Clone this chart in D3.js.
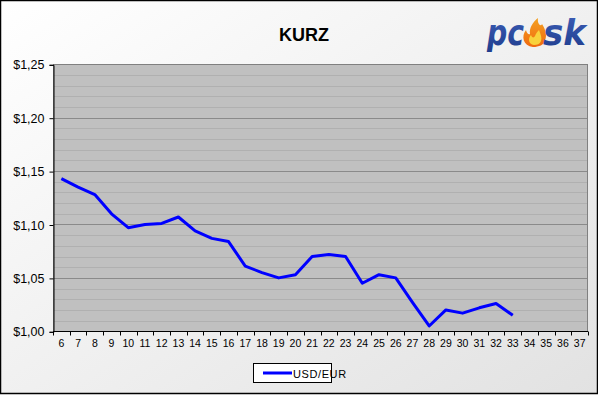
<!DOCTYPE html>
<html><head><meta charset="utf-8">
<script src="https://cdn.jsdelivr.net/npm/d3@7/dist/d3.min.js"></script>
<style>html,body{margin:0;padding:0;background:#fff;}svg{display:block;}</style>
</head><body>
<script>
const weeks = [6,7,8,9,10,11,12,13,14,15,16,17,18,19,20,21,22,23,24,25,26,27,28,29,30,31,32,33,34,35,36,37];
const usdEur = [1.143,1.135,1.128,1.110,1.097,1.100,1.101,1.107,1.094,1.087,1.084,1.061,1.055,1.050,1.053,1.070,1.072,1.070,1.045,1.053,1.050,1.027,1.005,1.020,1.017,1.022,1.026,1.015,null,null,null,null];
const yTicks = [1.00,1.05,1.10,1.15,1.20,1.25];
const minorTicks = d3.range(1.00,1.2501,0.01);
const seriesName = "USD/EUR";
const title = "KURZ";

const W=598,H=395;
const m={l:53,r:10,t:64,b:63};
const svg=d3.select("body").append("svg").attr("width",W).attr("height",H);
const defs=svg.append("defs");
const bg=defs.append("linearGradient").attr("id","bg").attr("x1","0").attr("y1","0").attr("x2","1").attr("y2","1");
bg.append("stop").attr("offset","0").attr("stop-color","#ffffff");
bg.append("stop").attr("offset","1").attr("stop-color","#e2e2e2");
const lg=defs.append("linearGradient").attr("id","logo").attr("x1","0").attr("y1","0").attr("x2","0").attr("y2","1");
lg.append("stop").attr("offset","0").attr("stop-color","#3d5fb8");
lg.append("stop").attr("offset","1").attr("stop-color","#1f3c8c");
const fg=defs.append("linearGradient").attr("id","flame").attr("x1","0").attr("y1","0").attr("x2","0").attr("y2","1");
fg.append("stop").attr("offset","0").attr("stop-color","#f4a020");
fg.append("stop").attr("offset","1").attr("stop-color","#f06a10");

svg.append("rect").attr("x",0.5).attr("y",0.5).attr("width",W-1).attr("height",H-2).attr("fill","url(#bg)").attr("stroke","#000").attr("stroke-width",1.5);

const x=d3.scaleBand().domain(weeks).range([m.l,588]).padding(0);
const y=d3.scaleLinear().domain([1.00,1.25]).range([331.3,64.3]);

// plot area
svg.append("rect").attr("x",m.l).attr("y",y(1.25)).attr("width",588-m.l).attr("height",y(1.0)-y(1.25)).attr("fill","#c0c0c0");
svg.append("g").selectAll("line").data(minorTicks).join("line")
  .attr("x1",m.l).attr("x2",588).attr("y1",d=>Math.round(y(d))+0.5).attr("y2",d=>Math.round(y(d))+0.5)
  .attr("stroke","#b0b0b0").attr("stroke-width",1);
svg.append("g").selectAll("line").data(yTicks).join("line")
  .attr("x1",m.l).attr("x2",588).attr("y1",d=>Math.round(y(d))+0.5).attr("y2",d=>Math.round(y(d))+0.5)
  .attr("stroke","#8a8a8a").attr("stroke-width",1);
svg.append("rect").attr("x",m.l+0.5).attr("y",Math.round(y(1.25))+0.5).attr("width",588-m.l-1).attr("height",Math.round(y(1.0))-Math.round(y(1.25))).attr("fill","none").attr("stroke","#808080").attr("stroke-width",1);

// y axis
const yAxis=d3.axisLeft(y).tickValues(yTicks).tickSize(4).tickFormat(d=>"$"+d3.format(".2f")(d).replace(".",","));
const ya=svg.append("g").attr("transform",`translate(${m.l+0.5},0.5)`).call(yAxis);
ya.select(".domain").attr("stroke","#000");
ya.selectAll(".tick line").attr("stroke","#000");
ya.selectAll("text").attr("font-family","Arial, 'Liberation Sans', sans-serif").attr("font-size",12.5).attr("fill","#000").attr("x",-9);

// x axis
const xa=svg.append("g").attr("transform",`translate(0,${Math.round(y(1.0))+0.5})`);
xa.append("line").attr("x1",m.l).attr("x2",588).attr("stroke","#000");
xa.selectAll(".tk").data(weeks.concat(["end"])).join("line").attr("class","tk")
  .attr("x1",(d,i)=>Math.round(m.l+i*x.bandwidth())+0.5).attr("x2",(d,i)=>Math.round(m.l+i*x.bandwidth())+0.5)
  .attr("y1",0).attr("y2",4).attr("stroke","#000");
xa.selectAll("text").data(weeks).join("text")
  .attr("x",d=>x(d)+x.bandwidth()/2).attr("y",15).attr("text-anchor","middle")
  .attr("font-family","Arial, 'Liberation Sans', sans-serif").attr("font-size",10.5).attr("fill","#000").text(d=>d);

// line
const pts=weeks.map((w,i)=>({w,v:usdEur[i]}));
svg.append("path").datum(pts)
  .attr("d",d3.line().defined(d=>d.v!=null).x(d=>x(d.w)+x.bandwidth()/2).y(d=>y(d.v)))
  .attr("fill","none").attr("stroke","#0000ff").attr("stroke-width",3).attr("stroke-linejoin","round");

// title
svg.append("text").attr("x",304).attr("y",41).attr("text-anchor","middle")
  .attr("font-family","Arial, 'Liberation Sans', sans-serif").attr("font-weight","bold").attr("font-size",18).attr("fill","#000").text(title);

// legend
svg.append("rect").attr("x",253.5).attr("y",363.5).attr("width",78).attr("height",19).attr("fill","#fff").attr("stroke","#000");
svg.append("line").attr("x1",263).attr("x2",292).attr("y1",373).attr("y2",373).attr("stroke","#0000ff").attr("stroke-width",3);
svg.append("text").attr("x",293).attr("y",377.5).attr("font-family","Arial, 'Liberation Sans', sans-serif").attr("font-size",11).attr("letter-spacing",0.6).attr("fill","#000").text(seriesName);

// logo
const logo=svg.append("g");
logo.append("text").attr("x",487).attr("y",45).attr("font-family","'DejaVu Sans', Arial, sans-serif").attr("font-weight","bold").attr("font-style","italic").attr("font-size",36)
  .attr("textLength",37).attr("lengthAdjust","spacingAndGlyphs").attr("fill","url(#logo)").text("pc");
logo.append("path").attr("d","M533,47 C523,46 521,36 526,30 C527,34 529,35 530,34 C529,28 533,22 538,18 C537,24 541,27 542,24 C546,30 547,36 545,40 C544,45 539,47 533,47 Z").attr("fill","url(#flame)");
logo.append("path").attr("d","M534,45 C528,44 528,38 531,35 C532,38 534,38 535,36 C536,33 538,31 539,30 C541,35 542,38 541,41 C540,44 537,45 534,45 Z").attr("fill","#f8d23c");
logo.append("text").attr("x",543).attr("y",45).attr("font-family","'DejaVu Sans', Arial, sans-serif").attr("font-weight","bold").attr("font-style","italic").attr("font-size",36)
  .attr("textLength",43).attr("lengthAdjust","spacingAndGlyphs").attr("fill","url(#logo)").text("sk");
</script>
</body></html>
